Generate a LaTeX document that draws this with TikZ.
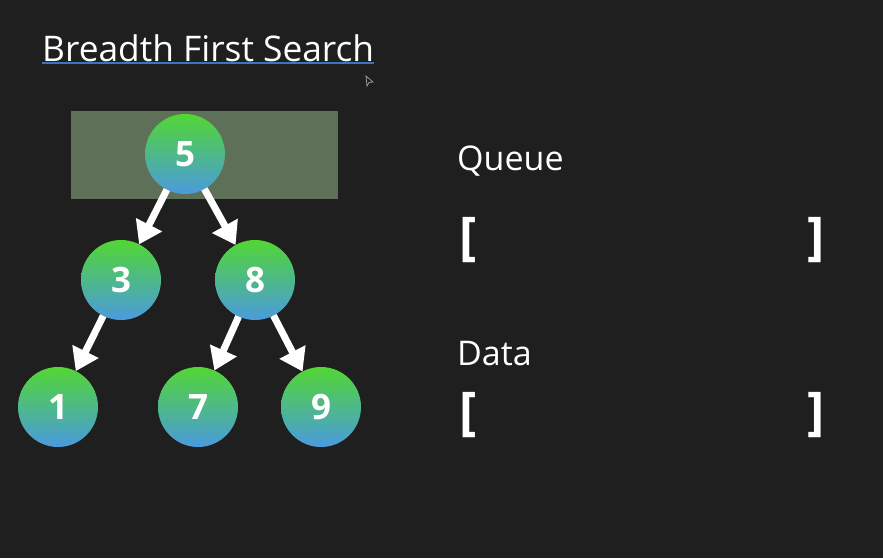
\documentclass[tikz,border=0pt]{standalone}
\usepackage{fontspec}
\setmainfont{Open Sans}
\usepackage{tikz}
\usetikzlibrary{arrows.meta,positioning}
\definecolor{bgdark}{RGB}{31,31,31}
\definecolor{nodegreen}{RGB}{82,214,52}
\definecolor{nodeblue}{RGB}{74,154,222}
\definecolor{levelbox}{RGB}{94,112,88}
\definecolor{linkblue}{RGB}{62,116,190}

\tikzset{
  treenode/.style={circle, minimum size=80pt, inner sep=0pt, outer sep=0pt,
    top color=nodegreen, bottom color=nodeblue, text=white,
    font=\fontsize{35}{35}\selectfont\bfseries},
  edge/.style={draw=white, line width=7pt, -{Triangle[length=22pt,width=28pt]}},
  heading/.style={text=white, inner sep=0pt, anchor=base west,
    font=\fontsize{34}{34}\selectfont},
  bracket/.style={text=white, inner sep=0pt,
    font=\fontsize{52}{52}\selectfont\bfseries}
}

\begin{document}
\begin{tikzpicture}[x=1pt,y=-1pt]
\fill[bgdark] (0,0) rectangle (883,558);

% title
\node[heading, font=\fontsize{35.3}{35.3}\selectfont] (title) at (42,61) {Breadth First Search};
\fill[linkblue] ([yshift=-1pt]title.base west) rectangle ([yshift=-3pt]title.base east);
\draw[gray!70, line width=0.7pt, fill=bgdark] (366,76) -- (373,82) -- (369,82.5) -- (367,86) -- cycle;

% current level
\fill[levelbox] (71,111) rectangle (338,199);

% tree
\node[treenode] (n5) at (185,154) {5};
\node[treenode] (n3) at (121,280) {3};
\node[treenode] (n8) at (255,280) {8};
\node[treenode] (n1) at (58,407) {1};
\node[treenode] (n7) at (198,407) {7};
\node[treenode] (n9) at (321,407) {9};

\draw[edge] (n5) -- (n3);
\draw[edge] (n5) -- (n8);
\draw[edge] (n3) -- (n1);
\draw[edge] (n8) -- (n7);
\draw[edge] (n8) -- (n9);

% queue and data
\node[heading] (queue) at (457,170) {Queue};
\node[bracket] (qopen) at (468,240) {[};
\node[bracket] (qclose) at (816,240) {]};

\node[heading] (data) at (457,365) {Data};
\node[bracket] (dopen) at (468,415) {[};
\node[bracket] (dclose) at (816,415) {]};
\end{tikzpicture}
\end{document}
